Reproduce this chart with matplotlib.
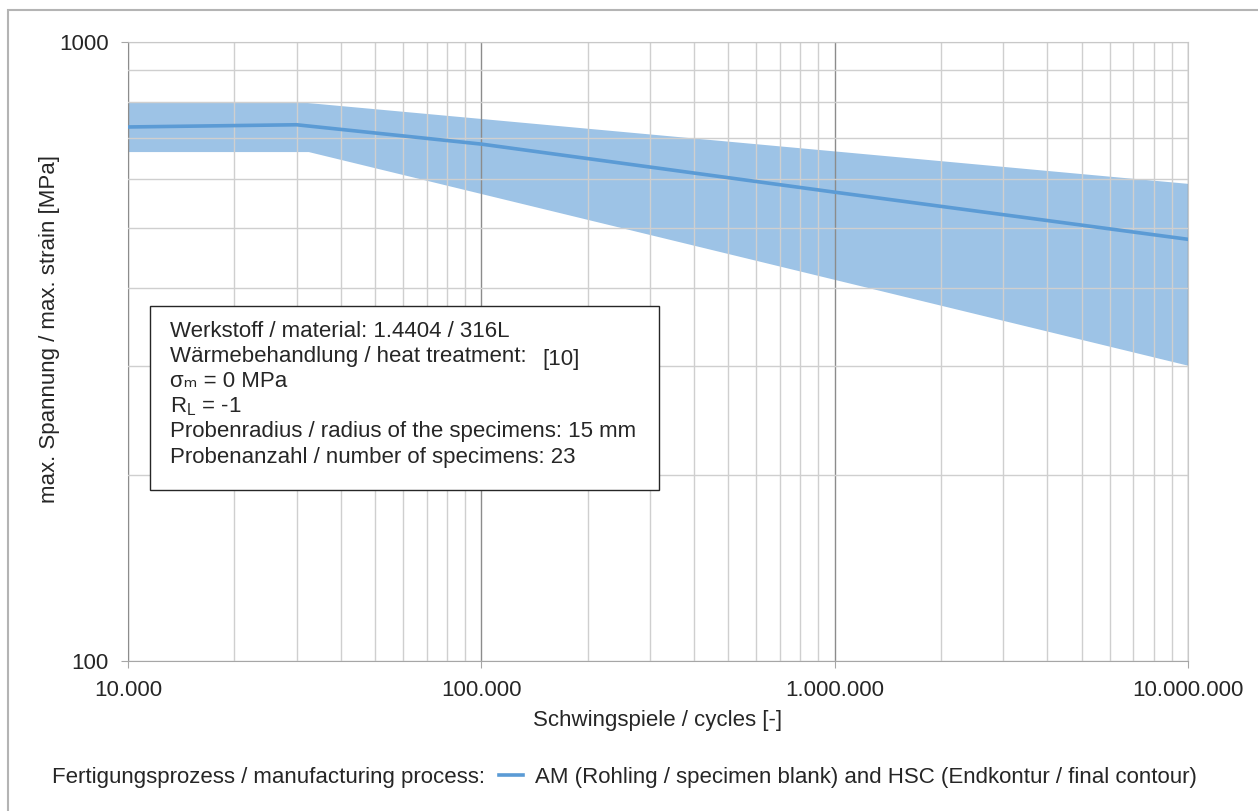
import numpy as np
import matplotlib
matplotlib.use("Agg")
from matplotlib import pyplot as plt
from matplotlib import ticker
from matplotlib.patches import Rectangle

plt.rcParams['font.family'] = ['Liberation Sans', 'DejaVu Sans']

# mean curve
cycles = [1e4, 3e4, 1e5, 1e6, 1e7]
stress_mean = [729, 735, 684, 572, 480]

# scatter band
upper_cycles = [1e4, 3e4, 1e7]
upper_stress = [800, 800, 590]
lower_cycles = [1e4, 3.25e4, 1e7]
lower_stress = [664, 664, 300]

info_lines = [
    "Werkstoff / material: 1.4404 / 316L",
    "Wärmebehandlung / heat treatment:",
    "σₘ = 0 MPa",
    "R$_\\mathregular{L}$ = -1",
    "Probenradius / radius of the specimens: 15 mm",
    "Probenanzahl / number of specimens: 23",
]

line_col = '#5B9BD5'
band_col = '#9DC3E6'
txt_col = '#262626'
fs = 16

fig = plt.figure(figsize=(12.58, 8.11), dpi=100)
ax = fig.add_axes((128/1258, 1-661/811, (1188-128)/1258, (661-42)/811))

ax.set_xscale('log')
ax.set_yscale('log')
ax.set_xlim(1e4, 1e7)
ax.set_ylim(100, 1000)

# band polygon
poly_x = np.concatenate([upper_cycles, lower_cycles[::-1]])
poly_y = np.concatenate([upper_stress, lower_stress[::-1]])
ax.fill(poly_x, poly_y, color=band_col, lw=0, zorder=1)
ax.plot(cycles, stress_mean, color=line_col, lw=2.6, zorder=3,
        label='AM (Rohling / specimen blank) and HSC (Endkontur / final contour)')

# grid
ax.xaxis.set_major_locator(ticker.LogLocator(base=10, numticks=10))
ax.xaxis.set_minor_locator(ticker.LogLocator(base=10, subs=np.arange(2, 10), numticks=20))
ax.yaxis.set_major_locator(ticker.LogLocator(base=10, numticks=10))
ax.yaxis.set_minor_locator(ticker.LogLocator(base=10, subs=np.arange(2, 10), numticks=20))
ax.xaxis.set_minor_formatter(ticker.NullFormatter())
ax.yaxis.set_minor_formatter(ticker.NullFormatter())
ax.xaxis.set_major_formatter(ticker.FuncFormatter(lambda v, p: f"{int(round(v)):,}".replace(',', '.')))
ax.yaxis.set_major_formatter(ticker.FuncFormatter(lambda v, p: f"{int(round(v))}"))

ax.grid(which='major', axis='x', color='#8C8C8C', lw=1.0, zorder=2)
ax.grid(which='major', axis='y', color='#C8C8C8', lw=1.0, zorder=2)
ax.grid(which='minor', color='#CFCFCF', lw=1.0, zorder=2)
ax.set_axisbelow(False)

for s in ['top', 'right']:
    ax.spines[s].set_color('#C8C8C8')
ax.spines['left'].set_color('#A6A6A6')
ax.spines['bottom'].set_color('#A6A6A6')
ax.tick_params(which='major', length=5, color='#A6A6A6', labelsize=fs, labelcolor=txt_col, pad=9)
ax.tick_params(which='minor', length=0)

ax.set_xlabel("Schwingspiele / cycles [-]", fontsize=fs, color=txt_col, labelpad=6)
ax.set_ylabel("max. Spannung / max. strain [MPa]", fontsize=fs, color=txt_col)
ax.yaxis.set_label_coords(-0.064, 0.536)

# info box
box = Rectangle((150/1258, 1-490/811), (659-150)/1258, (490-306)/811, transform=fig.transFigure,
                facecolor='white', edgecolor=txt_col, lw=1.0, zorder=5)
fig.patches.append(box)
for i, t in enumerate(info_lines):
    fig.text(170/1258, 1-(331 + i*25.2)/811, t, fontsize=fs, color=txt_col,
             va='center', ha='left', zorder=6)
fig.text(542/1258, 1-359/811, "[10]", fontsize=fs, color=txt_col, va='center', ha='left', zorder=6)

# legend
fig.text(52/1258, 1-777/811, "Fertigungsprozess / manufacturing process:", fontsize=fs,
         color=txt_col, va='center', ha='left')
leg = fig.legend(loc='center left', bbox_to_anchor=(499/1258, 1-777/811), frameon=False,
                 fontsize=fs, handlelength=1.1, handletextpad=0.5, borderaxespad=0, borderpad=0)
for txt in leg.get_texts():
    txt.set_color(txt_col)

# outer border
fig.patches.append(Rectangle((8/1258, -0.05), 1.2, 1-10/811+0.05, transform=fig.transFigure,
                             fill=False, edgecolor='#B4B4B4', lw=1.5))

fig.savefig('out.png', dpi=100)
